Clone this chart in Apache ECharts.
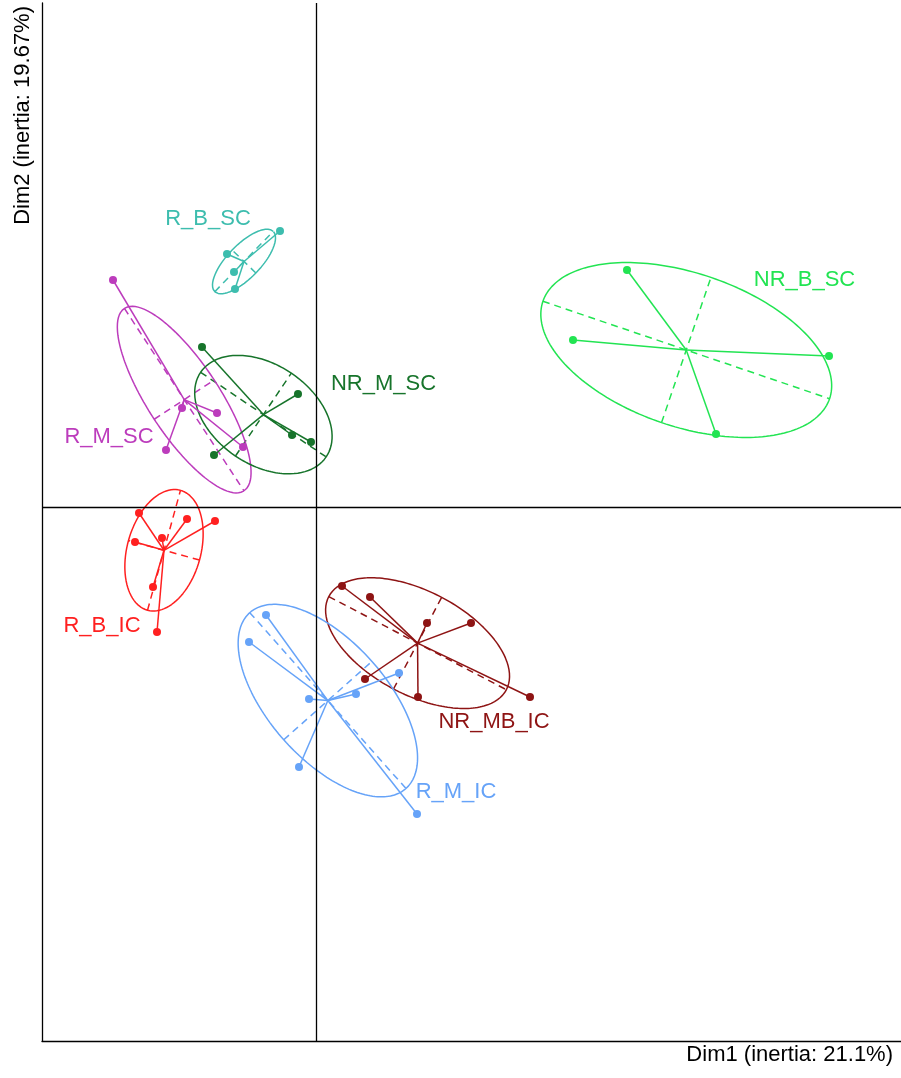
<!DOCTYPE html>
<html><head><meta charset="utf-8">
<script src="https://cdn.jsdelivr.net/npm/echarts@6/dist/echarts.min.js"></script>
<style>html,body{margin:0;padding:0;background:#fff}#c{width:901px;height:1078px}</style>
</head><body><div id="c"></div>
<script>
// Group names and label anchor positions (data units)
const groups = ['R_B_SC','R_M_SC','NR_M_SC','NR_B_SC','R_B_IC','NR_MB_IC','R_M_IC'];
const colors = ['#3DBDAE','#BC3CBC','#17742B','#22E452','#FF2020','#8E1414','#66A3F8'];
const labelX = [-1.08, -2.07, 0.675, 4.885, -2.14, 1.78, 1.40];
const labelY = [ 2.88,  0.70, 1.23,  2.27, -1.19, -2.15, -2.85];

// Individual coordinates per group
const xRBSC  = [-0.36, -0.89, -0.82, -0.81];
const yRBSC  = [ 2.76,  2.53,  2.35,  2.18];
const xRMSC  = [-2.03, -1.34, -0.99, -1.50, -0.73];
const yRMSC  = [ 2.27,  0.99,  0.94,  0.57,  0.60];
const xNRMSC = [-1.14, -0.18, -0.24, -0.05, -1.02];
const yNRMSC = [ 1.60,  1.13,  0.72,  0.65,  0.52];
const xNRBSC = [ 3.11,  2.57,  5.13,  4.00];
const yNRBSC = [ 2.37,  1.67,  1.51,  0.73];
const xRBIC  = [-1.77, -1.29, -1.01, -1.81, -1.54, -1.63, -1.59];
const yRBIC  = [-0.06, -0.12, -0.14, -0.35, -0.31, -0.80, -1.25];
const xNRMBIC= [ 0.26,  0.54,  1.11,  1.55,  0.49,  1.02,  2.14];
const yNRMBIC= [-0.79, -0.90, -1.16, -1.16, -1.72, -1.90, -1.90];
const xRMIC  = [-0.50, -0.67, -0.07,  0.40,  0.83, -0.17,  1.01];
const yRMIC  = [-1.08, -1.35, -1.92, -1.87, -1.66, -2.60, -3.07];

const xs = [xRBSC, xRMSC, xNRMSC, xNRBSC, xRBIC, xNRMBIC, xRMIC];
const ys = [yRBSC, yRMSC, yNRMSC, yNRBSC, yRBIC, yNRMBIC, yRMIC];

const xLabel = 'Dim1 (inertia: 21.1%)';
const yLabel = 'Dim2 (inertia: 19.67%)';
const cellipse = 1.5;

const series = [];
// zero lines
series.push({
  type:'line', data:[], silent:true,
  markLine:{silent:true, symbol:'none', label:{show:false},
    lineStyle:{color:'#000', width:1.3, type:'solid'},
    data:[{xAxis:0},{yAxis:0}]}
});

groups.forEach((g,i)=>{
  const X = xs[i], Y = ys[i], n = X.length, col = colors[i];
  const mx = X.reduce((a,b)=>a+b,0)/n, my = Y.reduce((a,b)=>a+b,0)/n;
  let vx=0, vy=0, cxy=0;
  for(let k=0;k<n;k++){vx+=(X[k]-mx)**2; vy+=(Y[k]-my)**2; cxy+=(X[k]-mx)*(Y[k]-my);}
  vx/=n; vy/=n; cxy/=n;
  const m=(vx+vy)/2, d=Math.sqrt(((vx-vy)/2)**2+cxy*cxy);
  const l1=m+d, l2=Math.max(m-d,0);
  const th = 0.5*Math.atan2(2*cxy, vx-vy);
  const u=[Math.cos(th),Math.sin(th)], v=[-Math.sin(th),Math.cos(th)];
  const a=cellipse*Math.sqrt(l1), b=cellipse*Math.sqrt(l2);
  const ell=[];
  for(let t=0;t<=200;t++){
    const ang=2*Math.PI*t/200;
    ell.push([mx+a*Math.cos(ang)*u[0]+b*Math.sin(ang)*v[0], my+a*Math.cos(ang)*u[1]+b*Math.sin(ang)*v[1]]);
  }
  series.push({type:'line', data:ell, showSymbol:false, silent:true, smooth:false,
    lineStyle:{color:col, width:1.5}, z:2});
  series.push({type:'lines', coordinateSystem:'cartesian2d', silent:true, z:2,
    lineStyle:{color:col, width:1.5, type:[7,5], opacity:1},
    data:[{coords:[[mx-a*u[0],my-a*u[1]],[mx+a*u[0],my+a*u[1]]]},
          {coords:[[mx-b*v[0],my-b*v[1]],[mx+b*v[0],my+b*v[1]]]}]});
  series.push({type:'lines', coordinateSystem:'cartesian2d', silent:true, z:3,
    lineStyle:{color:col, width:1.5, opacity:1},
    data:X.map((x,k)=>({coords:[[mx,my],[x,Y[k]]]}))});
  series.push({type:'scatter', symbol:'circle', symbolSize:8, silent:true, z:4,
    itemStyle:{color:col, opacity:1}, data:X.map((x,k)=>[x,Y[k]])});
  series.push({type:'scatter', symbolSize:0, silent:true, z:5, data:[[labelX[i],labelY[i]]],
    itemStyle:{color:col, opacity:1},
    label:{show:true, position:'inside', formatter:g, color:col,
      fontFamily:'Liberation Sans', fontSize:22, align:'center', verticalAlign:'middle'}});
});

const chart = echarts.init(document.getElementById('c'), null, {renderer:'canvas'});
chart.setOption({
  animation:false,
  backgroundColor:'#fff',
  grid:{left:42, right:0, top:3, bottom:37, containLabel:false},
  xAxis:{type:'value', min:-2.74, max:5.85, axisLine:{show:true, onZero:false, lineStyle:{color:'#000', width:1.3}},
    axisTick:{show:false}, axisLabel:{show:false}, splitLine:{show:false}},
  yAxis:{type:'value', min:-5.34, max:5.04, axisLine:{show:true, onZero:false, lineStyle:{color:'#000', width:1.3}},
    axisTick:{show:false}, axisLabel:{show:false}, splitLine:{show:false}},
  graphic:[
    {type:'text', right:8, top:1044, style:{text:xLabel, font:'22px "Liberation Sans"', fill:'#000'}},
    {type:'text', left:12, top:6, rotation:Math.PI/2, originX:0, originY:0,
      style:{text:yLabel, font:'22px "Liberation Sans"', fill:'#000'}}
  ],
  series:series
});
</script></body></html>
